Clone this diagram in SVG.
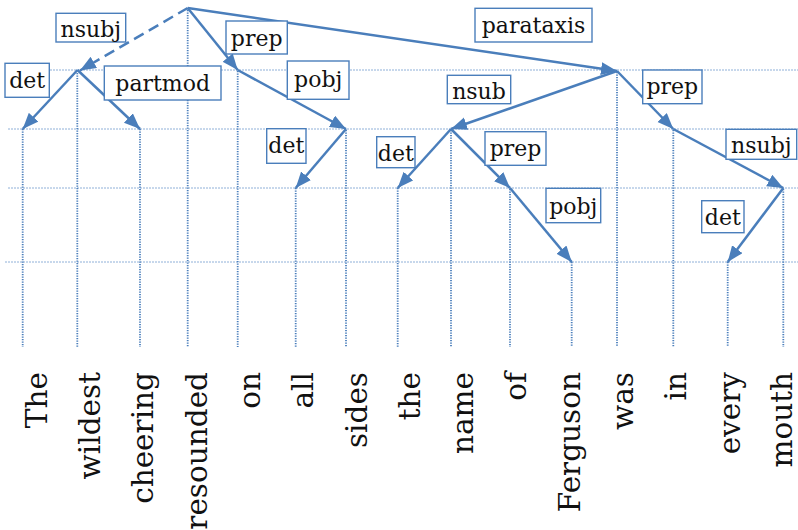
<svg xmlns="http://www.w3.org/2000/svg" width="798" height="530" viewBox="0 0 798 530">
  <style>
    .grid { stroke: #8fb0d8; stroke-width: 1; stroke-dasharray: 2 1; fill: none; }
    .col { stroke: #4a7ebb; stroke-width: 1.8; stroke-dasharray: 1.3 1.2; fill: none; }
    .edge { stroke: #4a7ebb; stroke-width: 2.5; fill: none; marker-end: url(#head); }
    .dashed { stroke-dasharray: 11 6; }
    .lbl rect { fill: #ffffff; stroke: #4a7ebb; stroke-width: 1.4; }
    .lbl text { font-family: "DejaVu Serif", "Liberation Serif", serif; font-size: 22px; fill: #111; text-anchor: middle; }
    .word text { font-family: "DejaVu Serif", "Liberation Serif", serif; font-size: 29.5px; fill: #111; text-anchor: end; }
  </style>
  <defs>
    <marker id="head" markerUnits="userSpaceOnUse" markerWidth="17" markerHeight="14" refX="16" refY="6.5" orient="auto">
      <path d="M0,0 L16,6.5 L0,13 z" fill="#4a7ebb"/>
    </marker>
  </defs>
  <rect width="798" height="530" fill="#ffffff"/>

  <!-- level guides -->
  <g id="levels">
    <line class="grid" x1="8" y1="70" x2="798" y2="70"/>
    <line class="grid" x1="8" y1="129" x2="798" y2="129"/>
    <line class="grid" x1="8" y1="188" x2="798" y2="188"/>
    <line class="grid" x1="5" y1="262" x2="798" y2="262"/>
  </g>

  <!-- words with their drop lines -->
  <g id="w-The" class="word"><line class="col" x1="22.7" y1="129" x2="22.7" y2="347"/><text transform="translate(46.7,372) rotate(-90)">The</text></g>
  <g id="w-wildest" class="word"><line class="col" x1="77.3" y1="73" x2="77.3" y2="347"/><text transform="translate(100,372) rotate(-90)">wildest</text></g>
  <g id="w-cheering" class="word"><line class="col" x1="140" y1="129" x2="140" y2="347"/><text transform="translate(153.3,372) rotate(-90)">cheering</text></g>
  <g id="w-resounded" class="word"><line class="col" x1="187.7" y1="10" x2="187.7" y2="347"/><text transform="translate(206.6,372) rotate(-90)">resounded</text></g>
  <g id="w-on" class="word"><line class="col" x1="237.7" y1="71" x2="237.7" y2="347"/><text transform="translate(259.9,372) rotate(-90)">on</text></g>
  <g id="w-all" class="word"><line class="col" x1="295.7" y1="188" x2="295.7" y2="347"/><text transform="translate(313.2,372) rotate(-90)">all</text></g>
  <g id="w-sides" class="word"><line class="col" x1="346" y1="130" x2="346" y2="347"/><text transform="translate(366.5,372) rotate(-90)">sides</text></g>
  <g id="w-the" class="word"><line class="col" x1="397.7" y1="188" x2="397.7" y2="347"/><text transform="translate(419.8,372) rotate(-90)">the</text></g>
  <g id="w-name" class="word"><line class="col" x1="451" y1="130" x2="451" y2="347"/><text transform="translate(473.1,372) rotate(-90)">name</text></g>
  <g id="w-of" class="word"><line class="col" x1="510" y1="189" x2="510" y2="347"/><text transform="translate(526.4,372) rotate(-90)">of</text></g>
  <g id="w-Ferguson" class="word"><line class="col" x1="571.7" y1="262" x2="571.7" y2="347"/><text transform="translate(579.7,372) rotate(-90)">Ferguson</text></g>
  <g id="w-was" class="word"><line class="col" x1="617" y1="72" x2="617" y2="347"/><text transform="translate(633,372) rotate(-90)">was</text></g>
  <g id="w-in" class="word"><line class="col" x1="673.3" y1="130" x2="673.3" y2="347"/><text transform="translate(686.3,372) rotate(-90)">in</text></g>
  <g id="w-every" class="word"><line class="col" x1="727.7" y1="262" x2="727.7" y2="347"/><text transform="translate(739.6,372) rotate(-90)">every</text></g>
  <g id="w-mouth" class="word"><line class="col" x1="783.3" y1="189" x2="783.3" y2="347"/><text transform="translate(791.5,372) rotate(-90)">mouth</text></g>

  <!-- dependency arcs -->
  <g id="connectors">
    <path class="edge dashed" d="M187.7,8 L80,70.5"/>
    <path class="edge" d="M187.7,8 L237.7,70"/>
    <path class="edge" d="M187.7,8 L617,71"/>
    <path class="edge" d="M77.5,70 L22.7,129"/>
    <path class="edge" d="M77.5,70 L140,129"/>
    <path class="edge" d="M237.7,70 L346,129"/>
    <path class="edge" d="M346,129 L295.7,188"/>
    <path class="edge" d="M617,71 L451,129"/>
    <path class="edge" d="M617,71 L673.3,129"/>
    <path class="edge" d="M451,129 L397.7,188"/>
    <path class="edge" d="M451,129 L510,188"/>
    <path class="edge" d="M510,188 L571.7,262"/>
    <path class="edge" d="M673.3,129 L783.3,188"/>
    <path class="edge" d="M783.3,188 L727.7,262"/>
  </g>

  <!-- relation labels -->
  <g id="labels">
    <g class="lbl"><rect x="56" y="13.3" width="69.7" height="28.7"/><text x="90.8" y="37">nsubj</text></g>
    <g class="lbl"><rect x="5" y="63.3" width="44.3" height="34"/><text x="27.2" y="87.5">det</text></g>
    <g class="lbl"><rect x="104.3" y="66" width="116.7" height="34"/><text x="162.7" y="90.5">partmod</text></g>
    <g class="lbl"><rect x="226" y="21" width="61.3" height="33"/><text x="256.7" y="45.5">prep</text></g>
    <g class="lbl"><rect x="287.3" y="61" width="61.7" height="38.3"/><text x="318.2" y="87">pobj</text></g>
    <g class="lbl"><rect x="266.7" y="128.7" width="39.3" height="34.6"/><text x="286.3" y="153">det</text></g>
    <g class="lbl"><rect x="475" y="8.3" width="117" height="33.7"/><text x="533.5" y="33">parataxis</text></g>
    <g class="lbl"><rect x="447.3" y="75.3" width="63.4" height="28.4"/><text x="479" y="99">nsub</text></g>
    <g class="lbl"><rect x="642.7" y="70" width="59.3" height="33.7"/><text x="672.3" y="94">prep</text></g>
    <g class="lbl"><rect x="376.7" y="136.7" width="38.3" height="31"/><text x="395.8" y="161">det</text></g>
    <g class="lbl"><rect x="485" y="131.7" width="61" height="33.6"/><text x="515.5" y="156">prep</text></g>
    <g class="lbl"><rect x="726" y="129.3" width="70.7" height="30"/><text x="761.3" y="153">nsubj</text></g>
    <g class="lbl"><rect x="546" y="188.3" width="54.7" height="34.4"/><text x="573.3" y="214">pobj</text></g>
    <g class="lbl"><rect x="701.7" y="200.7" width="42.3" height="32"/><text x="722.8" y="225">det</text></g>
  </g>
</svg>
